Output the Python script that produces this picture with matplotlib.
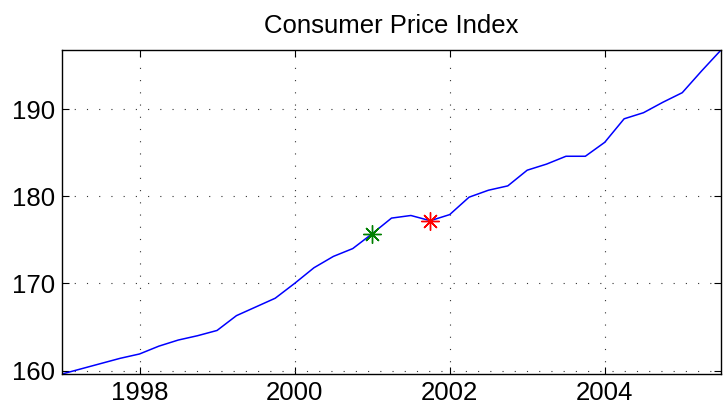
import numpy as np
import matplotlib
matplotlib.use("Agg")
from matplotlib import pyplot as plt

# quarterly CPI readings
years = [1997.0, 1997.25, 1997.5, 1997.75,
         1998.0, 1998.25, 1998.5, 1998.75,
         1999.0, 1999.25, 1999.5, 1999.75,
         2000.0, 2000.25, 2000.5, 2000.75,
         2001.0, 2001.25, 2001.5, 2001.75,
         2002.0, 2002.25, 2002.5, 2002.75,
         2003.0, 2003.25, 2003.5, 2003.75,
         2004.0, 2004.25, 2004.5, 2004.75,
         2005.0, 2005.25, 2005.5]
cpi = [159.6, 160.2, 160.8, 161.4,
       161.9, 162.8, 163.5, 164.0,
       164.6, 166.3, 167.3, 168.3,
       170.0, 171.8, 173.1, 174.0,
       175.7, 177.5, 177.8, 177.2,
       177.9, 179.9, 180.7, 181.2,
       183.0, 183.7, 184.6, 184.6,
       186.2, 188.9, 189.6, 190.8,
       191.9, 194.4, 196.8]

green_x, green_y = 2001.0, 175.7
red_x, red_y = 2001.75, 177.2

xticks = [1998, 2000, 2002, 2004]
yticks = [160, 170, 180, 190]

plt.rcParams['font.family'] = ['Liberation Sans', 'DejaVu Sans']

fig = plt.figure(figsize=(7.24, 4.17), dpi=100)
ax = fig.add_axes([0.0856, 0.1031, 0.9103, 0.777])

ax.plot(years, cpi, color='#0000ff', linewidth=1.1)
star = (8, 2, 0)
ax.plot([green_x], [green_y], linestyle='none', marker=star,
        markersize=13, markeredgewidth=1.0, color='#008000')
ax.plot([red_x], [red_y], linestyle='none', marker=star,
        markersize=13, markeredgewidth=1.0, color='#ff0000')

ax.set_xlim(min(years), max(years))
ax.set_ylim(min(cpi), max(cpi))
ax.set_xticks(xticks)
ax.set_yticks(yticks)
ax.tick_params(direction='in', length=5, width=0.8, labelsize=18.5,
               top=True, right=True, pad=5)
ax.grid(True, color='#333333', linestyle=(0, (1, 10)), linewidth=0.8)
for s in ax.spines.values():
    s.set_linewidth(1.0)

ax.set_title('Consumer Price Index', fontsize=18.5, pad=12)

fig.savefig('out.png', dpi=100)
